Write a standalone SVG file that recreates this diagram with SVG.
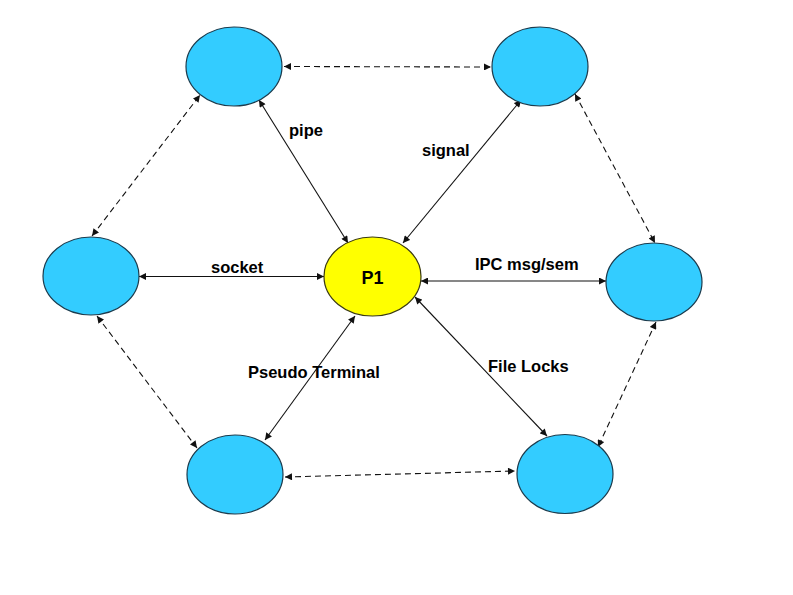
<svg xmlns="http://www.w3.org/2000/svg" width="793" height="595" viewBox="0 0 793 595">
<style>
.n{fill:#33CCFF;stroke:#1b3b4d;stroke-width:1.2}
.p1{fill:#FFFF00;stroke:#3a3a10;stroke-width:1.2}
.c{stroke:#111;stroke-width:1.1;fill:none;marker-start:url(#a);marker-end:url(#a)}
.d{stroke-dasharray:6,4}
text{font-family:"Liberation Sans",Arial,sans-serif;font-size:16.5px;font-weight:bold;fill:#000}
</style>
<defs>
<marker id="a" viewBox="0 0 10 10" refX="10" refY="5" markerWidth="8" markerHeight="7" markerUnits="userSpaceOnUse" orient="auto-start-reverse">
<path d="M0,0 L10,5 L0,10 z" fill="#111"/>
</marker>
</defs>
<rect width="793" height="595" fill="#fff"/>
<g id="connectors">
<line class="c d" x1="284" y1="66.5" x2="491" y2="67"/>
<line class="c d" x1="285" y1="477" x2="515" y2="471"/>
<line class="c d" x1="92" y1="236" x2="200" y2="95"/>
<line class="c d" x1="97" y1="316" x2="197" y2="448"/>
<line class="c d" x1="575" y1="94" x2="655" y2="243"/>
<line class="c d" x1="656" y1="322" x2="598" y2="447"/>
<line class="c" x1="259" y1="100" x2="348" y2="243"/>
<line class="c" x1="521" y1="100" x2="403" y2="243"/>
<line class="c" x1="139" y1="276.5" x2="324" y2="276.5"/>
<line class="c" x1="421" y1="281" x2="606" y2="281"/>
<line class="c" x1="355" y1="316" x2="265" y2="440"/>
<line class="c" x1="415" y1="297" x2="547" y2="436"/>
</g>
<g id="node-tl"><ellipse class="n" cx="234" cy="66.5" rx="48" ry="39.5"/></g>
<g id="node-tr"><ellipse class="n" cx="540" cy="66.5" rx="48" ry="39.5"/></g>
<g id="node-l"><ellipse class="n" cx="91" cy="276" rx="48" ry="39"/></g>
<g id="node-p1"><ellipse class="p1" cx="372.5" cy="276.5" rx="48.5" ry="39.5"/><text x="372.5" y="284" text-anchor="middle" style="font-size:18px">P1</text></g>
<g id="node-r"><ellipse class="n" cx="654" cy="282" rx="48" ry="39"/></g>
<g id="node-bl"><ellipse class="n" cx="235" cy="474.5" rx="48" ry="39.5"/></g>
<g id="node-br"><ellipse class="n" cx="565" cy="474" rx="48" ry="39.5"/></g>
<g id="labels">
<text x="289" y="136">pipe</text>
<text x="422" y="156">signal</text>
<text x="211" y="273">socket</text>
<text x="475" y="270">IPC msg/sem</text>
<text x="248" y="378">Pseudo Terminal</text>
<text x="488" y="372">File Locks</text>
</g>
</svg>
